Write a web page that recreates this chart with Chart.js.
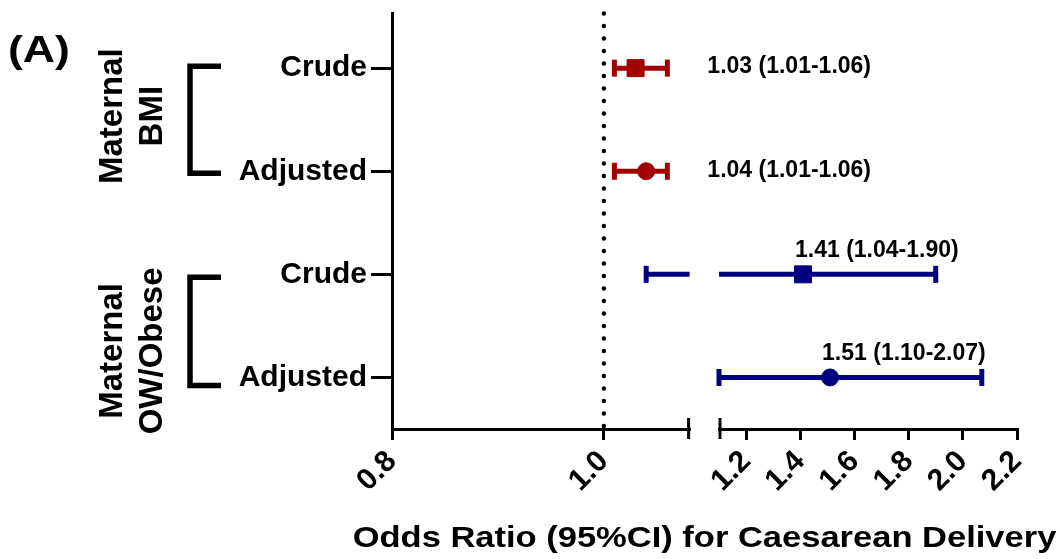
<!DOCTYPE html>
<html>
<head>
<meta charset="utf-8">
<script src="https://cdn.jsdelivr.net/npm/chart.js@4.4.1/dist/chart.umd.min.js"></script>
<style>
  html, body { margin: 0; padding: 0; background: #fff; }
  canvas { display: block; }
</style>
</head>
<body>
<canvas id="forest" width="1060" height="559"></canvas>
<script>
// rows, top to bottom
const rowLabels = ['Crude', 'Adjusted', 'Crude', 'Adjusted'];
const rowGroup = [0, 0, 1, 1];
const groupNames = [['Maternal', 'BMI'], ['Maternal', 'OW/Obese']];
const oddsRatio = [1.03, 1.04, 1.41, 1.51];
const ciLow = [1.01, 1.01, 1.04, 1.10];
const ciHigh = [1.06, 1.06, 1.90, 2.07];
const leftTicks = [0.8, 1.0];
const rightTicks = [1.2, 1.4, 1.6, 1.8, 2.0, 2.2];
const refValue = 1.0;
const panelTag = '(A)';
const xTitle = 'Odds Ratio (95%CI) for Caesarean Delivery';

// broken x axis: two segments
const leftMin = 0.8, leftMax = 1.081;
const rightMin = 1.1, rightMax = 2.2;
const yMin = -0.53, yMax = 3.5;

const FONT = '"Liberation Sans", Arial, Helvetica, sans-serif';
const colors = ['#a00000', '#000080'];

function axisFor(v) {
  return v <= leftMax ? 'x1' : 'x2';
}

const datasets = [];

// dotted line at OR = 1
datasets.push({
  data: [{x: refValue, y: yMin}, {x: refValue, y: yMax}],
  xAxisID: 'x1', yAxisID: 'y',
  showLine: true,
  borderColor: '#000', borderWidth: 4.5,
  borderDash: [0, 12.5], borderCapStyle: 'round',
  pointRadius: 0, order: 10, clip: false
});

rowLabels.forEach((lab, i) => {
  const color = colors[rowGroup[i]];
  const pieces = [];
  if (axisFor(ciLow[i]) === axisFor(ciHigh[i])) {
    pieces.push({ax: axisFor(ciLow[i]), a: ciLow[i], b: ciHigh[i], capA: true, capB: true});
  } else {
    // interval crosses the break
    pieces.push({ax: 'x1', a: ciLow[i], b: leftMax, capA: true, capB: false});
    pieces.push({ax: 'x2', a: rightMin, b: ciHigh[i], capA: false, capB: true});
  }
  pieces.forEach(p => datasets.push({
    data: [{x: p.a, y: i}, {x: p.b, y: i}],
    xAxisID: p.ax, yAxisID: 'y',
    showLine: true,
    borderColor: color, borderWidth: 5, borderCapStyle: 'butt',
    pointStyle: 'line', pointRotation: 90,
    pointRadius: [p.capA ? 8.5 : 0, p.capB ? 8.5 : 0],
    pointHoverRadius: [p.capA ? 8.5 : 0, p.capB ? 8.5 : 0],
    pointBorderWidth: 5, pointBorderColor: color, pointBackgroundColor: color,
    order: 5, clip: false
  }));
  const isCrude = lab === 'Crude';
  datasets.push({
    data: [{x: oddsRatio[i], y: i}],
    xAxisID: axisFor(oddsRatio[i]), yAxisID: 'y',
    pointStyle: isCrude ? 'rect' : 'circle',
    pointRadius: isCrude ? 12 : 8.5,
    pointBackgroundColor: color, pointBorderColor: color, pointBorderWidth: 1,
    order: 0, clip: false
  });
});

const fmt = v => v.toFixed(2);

const decor = {
  id: 'decor',
  afterDraw(chart) {
    const {ctx, scales} = chart;
    const y = scales.y;
    const x1 = scales.x1, x2 = scales.x2;
    ctx.save();

    // break end caps
    ctx.strokeStyle = '#000';
    ctx.lineWidth = 3;
    ctx.beginPath();
    ctx.moveTo(x1.right - 1, x1.top - 11);
    ctx.lineTo(x1.right - 1, x1.top + 10);
    ctx.moveTo(x2.left + 1, x2.top - 11);
    ctx.lineTo(x2.left + 1, x2.top + 10);
    ctx.stroke();

    // value labels
    ctx.fillStyle = '#000';
    ctx.font = 'bold 23px ' + FONT;
    ctx.textBaseline = 'middle';
    ctx.textAlign = 'left';
    rowLabels.forEach((_, i) => {
      const txt = fmt(oddsRatio[i]) + ' (' + fmt(ciLow[i]) + '-' + fmt(ciHigh[i]) + ')';
      const py = y.getPixelForValue(i);
      if (rowGroup[i] === 0) {
        const px = scales[axisFor(ciHigh[i])].getPixelForValue(ciHigh[i]) + 40;
        ctx.fillText(txt, px, py - 1);
      } else {
        const px = scales[axisFor(oddsRatio[i])].getPixelForValue(oddsRatio[i]) - 8;
        ctx.fillText(txt, px, py - 24);
      }
    });

    // group brackets and labels
    const bracketShift = [[-2, 2], [3, 8]];
    const labelShift = [-3.5, 19.5];
    groupNames.forEach((lines, g) => {
      const rows = rowGroup.map((gg, i) => gg === g ? i : -1).filter(i => i >= 0);
      const top = y.getPixelForValue(rows[0]) + bracketShift[g][0];
      const bot = y.getPixelForValue(rows[rows.length - 1]) + bracketShift[g][1];
      ctx.lineWidth = 5.5;
      ctx.lineJoin = 'miter';
      ctx.beginPath();
      ctx.moveTo(221, top);
      ctx.lineTo(190, top);
      ctx.lineTo(190, bot);
      ctx.lineTo(221, bot);
      ctx.stroke();

      ctx.save();
      ctx.translate(133, (top + bot) / 2 + labelShift[g]);
      ctx.rotate(-Math.PI / 2);
      ctx.font = 'bold 33px ' + FONT;
      ctx.textAlign = 'center';
      ctx.textBaseline = 'middle';
      ctx.fillText(lines[0], 0, -20);
      ctx.fillText(lines[1], 0, 20);
      ctx.restore();
    });

    // panel tag
    ctx.save();
    ctx.translate(8, 62);
    ctx.scale(1.24, 1);
    ctx.font = 'bold 36px ' + FONT;
    ctx.textAlign = 'left';
    ctx.textBaseline = 'alphabetic';
    ctx.fillText(panelTag, 0, 0);
    ctx.restore();

    // x axis title (spans both segments)
    ctx.save();
    ctx.translate((x1.left + x2.right) / 2, 547);
    ctx.scale(1.15, 1);
    ctx.font = 'bold 30px ' + FONT;
    ctx.textAlign = 'center';
    ctx.textBaseline = 'alphabetic';
    ctx.fillText(xTitle, 0, 0);
    ctx.restore();

    ctx.restore();
  }
};

const tickFont = {family: FONT, size: 30, weight: 'bold'};
const axisLine = {display: true, color: '#000', width: 3};
const tickMarks = {
  display: true, drawOnChartArea: false,
  tickLength: 11, tickWidth: 3, tickColor: '#000', color: '#000', lineWidth: 3
};
const xHeight = 130;

function noPad(s) {
  s.paddingTop = 0;
  s.paddingBottom = 0;
  s.paddingLeft = 0;
  s.paddingRight = 0;
}

new Chart(document.getElementById('forest'), {
  type: 'scatter',
  data: {datasets: datasets},
  plugins: [decor],
  options: {
    responsive: false,
    animation: false,
    events: [],
    layout: {padding: {top: 10, right: 43, left: 0, bottom: 0}},
    plugins: {
      legend: {display: false},
      tooltip: {enabled: false}
    },
    scales: {
      y: {
        type: 'linear', position: 'left', reverse: true,
        min: yMin, max: yMax,
        afterBuildTicks: s => { s.ticks = rowLabels.map((_, i) => ({value: i})); },
        afterFit: s => { s.width = 392; noPad(s); },
        ticks: {
          callback: (v, idx) => rowLabels[idx],
          color: '#000', padding: 4,
          font: {family: FONT, size: 30, weight: 'bold'}
        },
        grid: Object.assign({}, tickMarks, {tickLength: 21}),
        border: axisLine
      },
      x1: {
        type: 'linear', position: 'bottom', stack: 'x', stackWeight: 297.6,
        min: leftMin, max: leftMax,
        afterBuildTicks: s => { s.ticks = leftTicks.map(v => ({value: v})); },
        afterFit: s => { s.height = xHeight; noPad(s); },
        ticks: {
          callback: v => Number(v).toFixed(1),
          minRotation: 45, maxRotation: 45, autoSkip: false,
          color: '#000', padding: 4, font: tickFont
        },
        grid: tickMarks,
        border: axisLine
      },
      xgap: {
        type: 'linear', position: 'bottom', stack: 'x', stackWeight: 29.4,
        min: 0, max: 1,
        afterFit: s => { s.height = xHeight; noPad(s); },
        ticks: {display: false},
        grid: {display: false},
        border: {display: false}
      },
      x2: {
        type: 'linear', position: 'bottom', stack: 'x', stackWeight: 298,
        min: rightMin, max: rightMax,
        afterBuildTicks: s => { s.ticks = rightTicks.map(v => ({value: v})); },
        afterFit: s => { s.height = xHeight; noPad(s); },
        ticks: {
          callback: v => Number(v).toFixed(1),
          minRotation: 45, maxRotation: 45, autoSkip: false,
          color: '#000', padding: 4, font: tickFont
        },
        grid: tickMarks,
        border: axisLine
      }
    }
  }
});
</script>
</body>
</html>
